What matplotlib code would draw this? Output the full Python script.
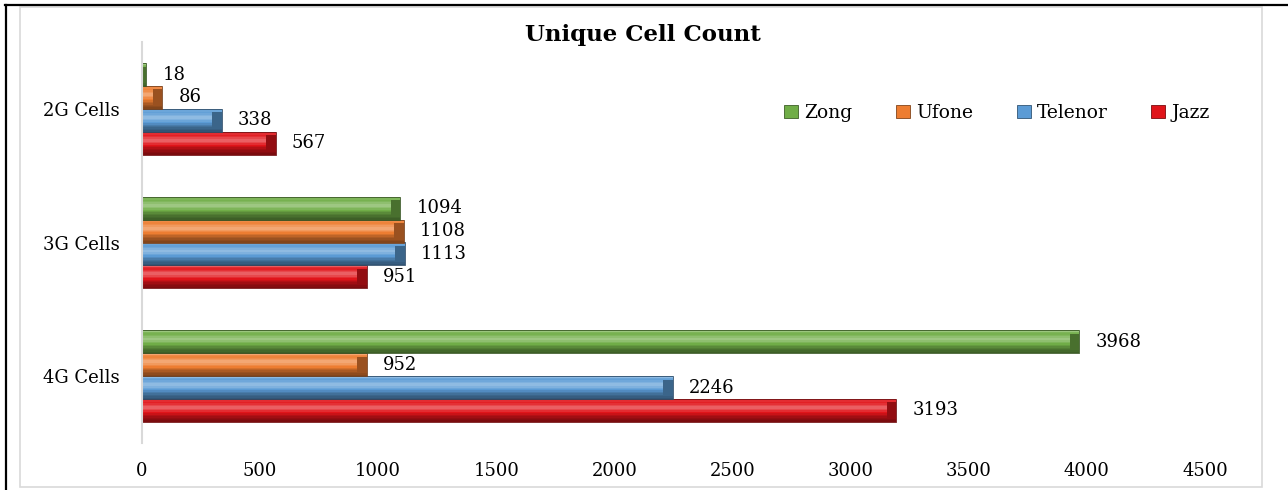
import matplotlib
matplotlib.use("Agg")
import matplotlib.pyplot as plt
import matplotlib.colors as mcolors
from matplotlib.lines import Line2D
from matplotlib.patches import Rectangle, Patch
import numpy as np

plt.rcParams['font.family'] = ['DejaVu Serif']

# data
categories = ["4G Cells", "3G Cells", "2G Cells"]
operators = ["Jazz", "Telenor", "Ufone", "Zong"]
jazz = [3193, 951, 567]
telenor = [2246, 1113, 338]
ufone = [952, 1108, 86]
zong = [3968, 1094, 18]
series = [jazz, telenor, ufone, zong]
colors = ["#E0141A", "#5B9BD5", "#ED7D31", "#70AD47"]
x_ticks = [0, 500, 1000, 1500, 2000, 2500, 3000, 3500, 4000, 4500]

W, H = 1288, 490
fig = plt.figure(figsize=(W / 100, H / 100), dpi=100)


def fx(px):
    return px / W


def fy(py):
    return 1 - py / H


ax = fig.add_axes([fx(142), fy(443), fx(1205) - fx(142), fy(42) - fy(443)])


def shade(c, f):
    # f > 0 mixes towards white, f < 0 towards black
    r = np.array(mcolors.to_rgb(c))
    if f >= 0:
        return tuple(r + (1 - r) * f)
    return tuple(r * (1 + f))


# vertical light profile of the bevelled bar, top strip first
profile = [0.30, 0.10, 0.05, 0.12, 0.22, 0.32, 0.32, 0.22, 0.10, 0.0,
           -0.10, -0.20, -0.28, -0.35, -0.40, -0.45]
bar_h = 0.171
y = np.arange(len(categories))

for i, (vals, col) in enumerate(zip(series, colors)):
    yc = y + (i - 1.5) * bar_h
    vals = np.array(vals)
    n = len(profile)
    sh = bar_h / n
    for k, f in enumerate(profile):
        ys = yc + bar_h / 2 - (k + 0.5) * sh
        ax.barh(ys, vals, height=sh * 1.05, left=0, color=shade(col, f), linewidth=0)
    # darker right-hand bevel
    cap = np.minimum(vals, 40)
    ax.barh(yc, cap, height=bar_h * 0.7, left=vals - cap,
            color=shade(col, -0.35), linewidth=0)
    ax.barh(yc, vals, height=bar_h, left=0, color="none",
            edgecolor=shade(col, -0.5), linewidth=0.6)
    for yy, v in zip(yc, vals):
        ax.annotate(str(v), (v, yy), xytext=(16, 0), textcoords="offset pixels",
                    ha="left", va="center", fontsize=13, color="black")

ax.set_xlim(0, 4500)
ax.set_ylim(-0.5, 2.5)
ax.set_xticks(x_ticks)
ax.set_xticklabels([str(t) for t in x_ticks], fontsize=13)
ax.set_yticks(y)
ax.set_yticklabels(categories, fontsize=13)
ax.tick_params(axis="x", length=0, pad=14)
ax.tick_params(axis="y", length=0, pad=16)
for s in ["top", "right", "bottom"]:
    ax.spines[s].set_visible(False)
ax.spines["left"].set_color("#D9D9D9")
ax.spines["left"].set_linewidth(1.5)

# legend, Zong first
handles = [Patch(facecolor=colors[i], edgecolor=shade(colors[i], -0.45), linewidth=0.6)
           for i in [3, 2, 1, 0]]
labels = [operators[i] for i in [3, 2, 1, 0]]
fig.legend(handles, labels, loc="center left", bbox_to_anchor=(fx(784), fy(113)),
           ncol=4, frameon=False, fontsize=13.5, handlelength=0.75, handleheight=0.75,
           handletextpad=0.35, columnspacing=2.3, borderpad=0, borderaxespad=0)

fig.text(fx(643), fy(35), "Unique Cell Count", ha="center", va="center",
         fontsize=16.5, fontweight="bold")

# chart frame and outer border
fig.add_artist(Rectangle((fx(20), fy(487)), fx(1262) - fx(20), fy(7.5) - fy(487),
                         transform=fig.transFigure, fill=False,
                         edgecolor="#D9D9D9", linewidth=1.2))
fig.add_artist(Line2D([fx(5), fx(1288)], [fy(5.5), fy(5.5)],
                      transform=fig.transFigure, color="black", linewidth=1.6))
fig.add_artist(Line2D([fx(6), fx(6)], [fy(5), fy(490)],
                      transform=fig.transFigure, color="black", linewidth=1.6))

fig.savefig("out.png", dpi=100)
